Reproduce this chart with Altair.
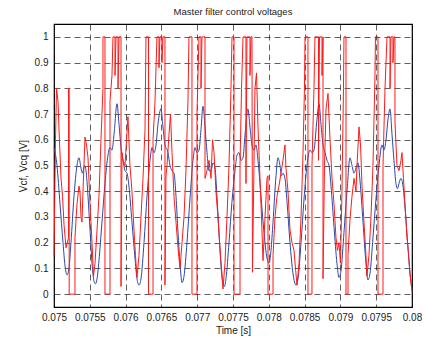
import altair as alt
import pandas as pd

# ---- data ----
x_ticks = [0.075, 0.0755, 0.076, 0.0765, 0.077, 0.0775, 0.078, 0.0785, 0.079, 0.0795, 0.08]
y_ticks = [0, 0.1, 0.2, 0.3, 0.4, 0.5, 0.6, 0.7, 0.8, 0.9, 1]

# Vcf (blue)
blue_t = [0.075000, 0.075042, 0.075084, 0.075126, 0.075154, 0.075182, 0.075209, 0.075237,
          0.075279, 0.075321, 0.075349, 0.075377, 0.075398, 0.075426, 0.075447, 0.075475,
          0.075503, 0.075531, 0.075559, 0.075580, 0.075601, 0.075628, 0.075670, 0.075712,
          0.075754, 0.075782, 0.075810, 0.075838, 0.075880, 0.075908, 0.075936, 0.075964,
          0.075992, 0.076020, 0.076047, 0.076089, 0.076131, 0.076159, 0.076187, 0.076215,
          0.076257, 0.076299, 0.076341, 0.076369, 0.076397, 0.076425, 0.076452, 0.076494,
          0.076522, 0.076550, 0.076592, 0.076620, 0.076648, 0.076676, 0.076704, 0.076732,
          0.076760, 0.076788, 0.076816, 0.076857, 0.076899, 0.076941, 0.076969, 0.076997,
          0.077025, 0.077053, 0.077081, 0.077109, 0.077137, 0.077165, 0.077193, 0.077221,
          0.077249, 0.077276, 0.077304, 0.077332, 0.077360, 0.077381, 0.077402, 0.077444,
          0.077486, 0.077528, 0.077556, 0.077584, 0.077612, 0.077640, 0.077668, 0.077709,
          0.077737, 0.077765, 0.077793, 0.077821, 0.077849, 0.077891, 0.077933, 0.077975,
          0.078003, 0.078031, 0.078059, 0.078101, 0.078128, 0.078156, 0.078177, 0.078198,
          0.078226, 0.078254, 0.078296, 0.078338, 0.078380, 0.078408, 0.078450, 0.078492,
          0.078533, 0.078575, 0.078603, 0.078631, 0.078673, 0.078701, 0.078729, 0.078757,
          0.078785, 0.078813, 0.078841, 0.078869, 0.078911, 0.078952, 0.078980, 0.079008,
          0.079050, 0.079092, 0.079134, 0.079162, 0.079190, 0.079218, 0.079246, 0.079274,
          0.079316, 0.079357, 0.079385, 0.079413, 0.079455, 0.079497, 0.079539, 0.079581,
          0.079609, 0.079637, 0.079665, 0.079693, 0.079721, 0.079748, 0.079776, 0.079797,
          0.079818, 0.079846, 0.079874, 0.079902, 0.079944, 0.079972, 0.080000]
blue_v = [0.57, 0.50, 0.35, 0.20, 0.11, 0.075, 0.10, 0.20,
          0.38, 0.50, 0.53, 0.49, 0.47, 0.50, 0.48, 0.38,
          0.25, 0.12, 0.05, 0.04, 0.06, 0.13, 0.28, 0.43,
          0.54, 0.57, 0.56, 0.62, 0.74, 0.66, 0.57, 0.52,
          0.48, 0.47, 0.42, 0.28, 0.14, 0.06, 0.035, 0.06,
          0.20, 0.38, 0.52, 0.57, 0.55, 0.58, 0.66, 0.72,
          0.65, 0.58, 0.55, 0.50, 0.48, 0.47, 0.38, 0.24,
          0.12, 0.045, 0.07, 0.20, 0.37, 0.52, 0.57, 0.55,
          0.56, 0.64, 0.73, 0.65, 0.55, 0.48, 0.48, 0.51,
          0.49, 0.38, 0.24, 0.11, 0.04, 0.03, 0.06, 0.20,
          0.36, 0.48, 0.54, 0.55, 0.52, 0.53, 0.62, 0.72,
          0.65, 0.58, 0.56, 0.58, 0.52, 0.38, 0.24, 0.14,
          0.12, 0.17, 0.28, 0.46, 0.53, 0.50, 0.46, 0.47,
          0.45, 0.36, 0.20, 0.08, 0.035, 0.06, 0.20, 0.37,
          0.50, 0.56, 0.55, 0.56, 0.68, 0.74, 0.66, 0.58,
          0.55, 0.52, 0.50, 0.42, 0.26, 0.12, 0.065, 0.09,
          0.24, 0.40, 0.53, 0.50, 0.47, 0.49, 0.51, 0.44,
          0.28, 0.12, 0.055, 0.08, 0.22, 0.37, 0.50, 0.58,
          0.56, 0.60, 0.68, 0.72, 0.62, 0.52, 0.43, 0.41,
          0.43, 0.45, 0.42, 0.34, 0.18, 0.08, 0.02]

# Vcq (red)
red_t = [0.075000, 0.075021, 0.075035, 0.075056, 0.075070, 0.075098, 0.075119, 0.075140,
         0.075168, 0.075203, 0.075203, 0.075212, 0.075212, 0.075293, 0.075293, 0.075321,
         0.075349, 0.075363, 0.075377, 0.075391, 0.075405, 0.075433, 0.075454, 0.075475,
         0.075503, 0.075531, 0.075552, 0.075573, 0.075601, 0.075628, 0.075656, 0.075684,
         0.075684, 0.075712, 0.075712, 0.075782, 0.075782, 0.075810, 0.075824, 0.075852,
         0.075852, 0.075866, 0.075894, 0.075894, 0.075908, 0.075936, 0.075936, 0.075950,
         0.075964, 0.075992, 0.076013, 0.076033, 0.076061, 0.076089, 0.076117, 0.076138,
         0.076159, 0.076187, 0.076215, 0.076243, 0.076271, 0.076285, 0.076320, 0.076320,
         0.076383, 0.076383, 0.076411, 0.076438, 0.076466, 0.076466, 0.076480, 0.076508,
         0.076508, 0.076522, 0.076550, 0.076550, 0.076564, 0.076578, 0.076606, 0.076627,
         0.076648, 0.076676, 0.076704, 0.076732, 0.076760, 0.076788, 0.076816, 0.076843,
         0.076871, 0.076885, 0.076927, 0.076927, 0.076997, 0.076997, 0.077011, 0.077025,
         0.077053, 0.077053, 0.077067, 0.077109, 0.077109, 0.077137, 0.077165, 0.077193,
         0.077214, 0.077235, 0.077262, 0.077290, 0.077318, 0.077346, 0.077360, 0.077388,
         0.077416, 0.077444, 0.077472, 0.077486, 0.077514, 0.077514, 0.077598, 0.077598,
         0.077619, 0.077640, 0.077681, 0.077681, 0.077695, 0.077737, 0.077737, 0.077751,
         0.077765, 0.077772, 0.077793, 0.077807, 0.077828, 0.077849, 0.077877, 0.077898,
         0.077919, 0.077947, 0.077975, 0.077989, 0.077989, 0.078059, 0.078059, 0.078087,
         0.078114, 0.078142, 0.078170, 0.078198, 0.078226, 0.078240, 0.078268, 0.078296,
         0.078324, 0.078352, 0.078373, 0.078394, 0.078422, 0.078450, 0.078478, 0.078498,
         0.078506, 0.078547, 0.078547, 0.078603, 0.078603, 0.078631, 0.078645, 0.078694,
         0.078694, 0.078708, 0.078743, 0.078743, 0.078757, 0.078757, 0.078778, 0.078799,
         0.078827, 0.078855, 0.078883, 0.078911, 0.078938, 0.078959, 0.078980, 0.079001,
         0.079022, 0.079043, 0.079050, 0.079078, 0.079078, 0.079106, 0.079106, 0.079134,
         0.079162, 0.079190, 0.079218, 0.079232, 0.079260, 0.079281, 0.079302, 0.079329,
         0.079357, 0.079371, 0.079399, 0.079427, 0.079455, 0.079483, 0.079490, 0.079525,
         0.079525, 0.079595, 0.079595, 0.079623, 0.079651, 0.079693, 0.079693, 0.079707,
         0.079734, 0.079734, 0.079748, 0.079762, 0.079762, 0.079790, 0.079818, 0.079846,
         0.079860, 0.079881, 0.079902, 0.079930, 0.079951, 0.079972, 0.080000]
red_v = [0.15, 0.60, 0.80, 0.75, 0.64, 0.45, 0.38, 0.27,
         0.18, 0.22, 0.80, 0.80, 0.00, 0.00, 0.22, 0.35,
         0.42, 0.40, 0.30, 0.28, 0.40, 0.61, 0.58, 0.53,
         0.35, 0.20, 0.07, 0.12, 0.25, 0.38, 0.60, 0.80,
         1.00, 1.00, 0.00, 0.00, 0.75, 0.85, 1.00, 1.00,
         0.85, 1.00, 1.00, 0.80, 1.00, 1.00, 0.03, 0.55,
         0.52, 0.50, 0.60, 0.69, 0.50, 0.40, 0.25, 0.15,
         0.065, 0.15, 0.30, 0.45, 0.64, 1.00, 1.00, 0.00,
         0.00, 0.60, 0.75, 1.00, 1.00, 0.88, 1.00, 1.00,
         0.90, 1.00, 1.00, 0.035, 0.46, 0.50, 0.62, 0.70,
         0.55, 0.38, 0.28, 0.18, 0.10, 0.20, 0.30, 0.48,
         0.75, 1.00, 1.00, 0.00, 0.00, 0.70, 0.85, 1.00,
         1.00, 0.80, 1.00, 1.00, 0.45, 0.48, 0.52, 0.45,
         0.60, 0.55, 0.40, 0.30, 0.18, 0.08, 0.02, 0.12,
         0.30, 0.50, 0.80, 1.00, 1.00, 0.00, 0.00, 0.50,
         0.80, 1.00, 1.00, 0.43, 1.00, 1.00, 0.85, 1.00,
         1.00, 0.085, 0.50, 0.80, 0.86, 0.65, 0.45, 0.30,
         0.13, 0.30, 0.45, 0.46, 0.00, 0.00, 0.15, 0.30,
         0.38, 0.42, 0.47, 0.52, 0.58, 0.49, 0.40, 0.25,
         0.20, 0.17, 0.10, 0.035, 0.12, 0.30, 0.55, 0.80,
         1.00, 1.00, 0.00, 0.00, 0.50, 0.80, 1.00, 1.00,
         0.52, 1.00, 1.00, 0.85, 1.00, 0.06, 0.50, 0.72,
         0.78, 0.60, 0.45, 0.35, 0.22, 0.17, 0.20, 0.12,
         0.40, 0.80, 1.00, 1.00, 0.00, 0.00, 0.15, 0.29,
         0.38, 0.45, 0.40, 0.50, 0.65, 0.58, 0.42, 0.28,
         0.15, 0.07, 0.15, 0.30, 0.50, 0.85, 1.00, 1.00,
         0.00, 0.00, 0.50, 0.80, 1.00, 1.00, 0.80, 1.00,
         1.00, 0.90, 1.00, 1.00, 0.67, 0.50, 0.48, 0.52,
         0.55, 0.45, 0.35, 0.22, 0.16, 0.08, 0.01]

blue_df = pd.DataFrame({"t": blue_t, "v": blue_v})
blue_df["i"] = range(len(blue_df))
red_df = pd.DataFrame({"t": red_t, "v": red_v})
red_df["i"] = range(len(red_df))

FONT = "Liberation Sans"


def x_enc():
    return alt.X("t:Q",
                 scale=alt.Scale(domain=[0.075, 0.08], nice=False, zero=False),
                 axis=alt.Axis(values=x_ticks, format=".4~f", title="Time [s]",
                               grid=True, gridDash=[6, 4], gridColor="#000000", gridWidth=0.7,
                               gridOpacity=0.9, ticks=False, domain=False,
                               labelOverlap=False, labelFlush=False, labelPadding=5,
                               labelFontSize=10, labelFont=FONT, labelColor="#222222",
                               titleFont=FONT, titleFontSize=10, titleFontWeight="normal",
                               titleColor="#222222", titlePadding=3))


def y_enc():
    return alt.Y("v:Q",
                 scale=alt.Scale(domain=[-0.05, 1.05], nice=False, zero=False),
                 axis=alt.Axis(values=y_ticks, format="~g", title="Vcf, Vcq [V]",
                               grid=True, gridDash=[6, 4], gridColor="#000000", gridWidth=0.7,
                               gridOpacity=0.9, ticks=False, domain=False,
                               labelOverlap=False, labelPadding=6,
                               labelFontSize=10, labelFont=FONT, labelColor="#222222",
                               titleFont=FONT, titleFontSize=10, titleFontWeight="normal",
                               titleColor="#222222", titlePadding=6))


blue = alt.Chart(blue_df).mark_line(color="#2b47a6", strokeWidth=1,
                                    interpolate="monotone").encode(
    x=x_enc(), y=y_enc(), order="i:Q")
red = alt.Chart(red_df).mark_line(color="#ff1a1a", strokeWidth=1).encode(
    x=x_enc(), y=y_enc(), order="i:Q")

chart = alt.layer(blue, red).properties(
    width=358, height=283,
    title=alt.TitleParams("Master filter control voltages", font=FONT, fontSize=9.5,
                          fontWeight="normal", color="#222222", offset=8, anchor="middle"),
    autosize=alt.AutoSizeParams(type="none"),
    padding={"left": 54, "top": 24, "right": 14, "bottom": 31},
    background="white",
).configure_view(stroke="#000000", strokeWidth=1.2)

chart.save("out.html", embed_options={"renderer": "svg", "actions": False})
